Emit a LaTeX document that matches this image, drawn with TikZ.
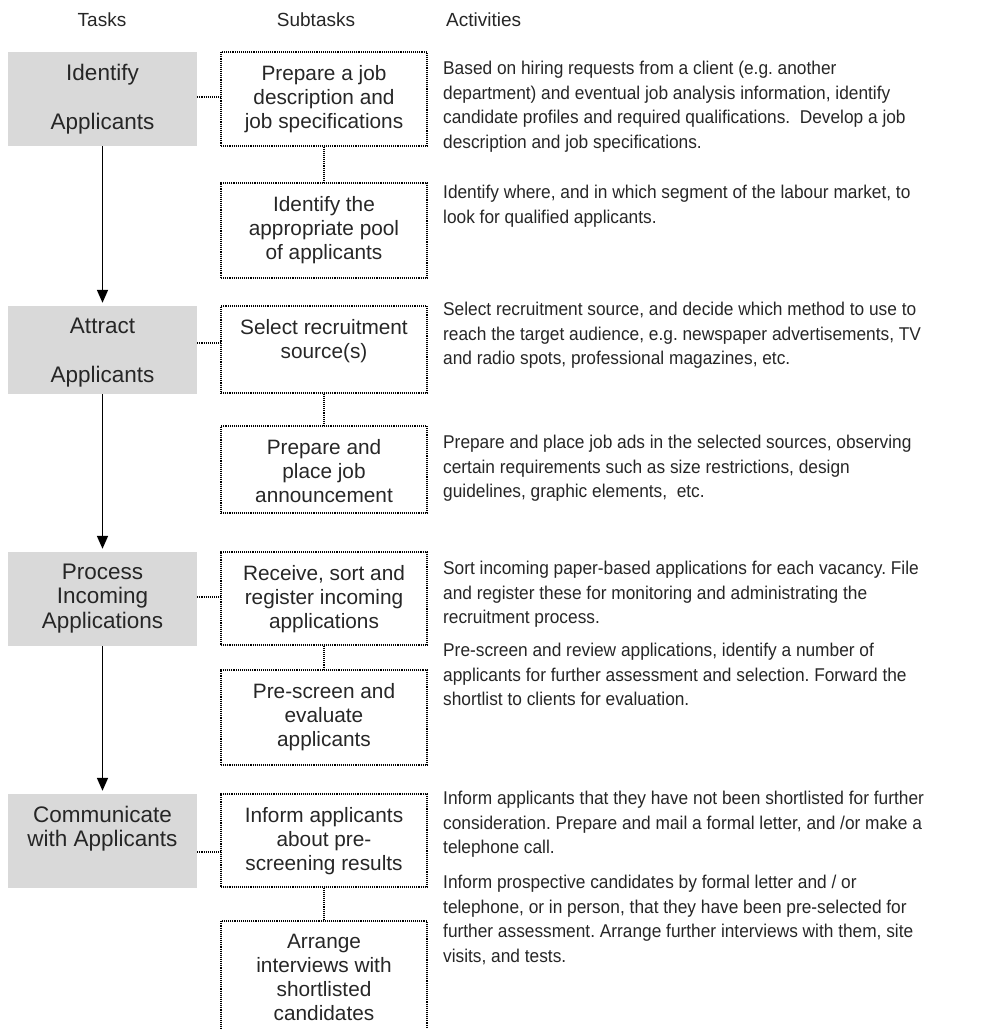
\documentclass[tikz,border=0pt]{standalone}
\usepackage{fontspec}
\setmainfont{Liberation Sans}
\newfontfamily\actfont[FakeStretch=0.935]{Liberation Sans}
\usetikzlibrary{arrows.meta,positioning}
\definecolor{taskgray}{HTML}{D9D9D9}
\definecolor{ink}{HTML}{262626}
\frenchspacing

\begin{document}
\begin{tikzpicture}
[x=1pt,y=-1pt,
taskbox/.style={rectangle,fill=taskgray,inner sep=0pt,minimum width=189pt},
subbox/.style={rectangle,draw=black,densely dotted,line width=1.1pt,inner sep=0pt,minimum width=206pt},
tasktext/.style={inner sep=0pt,align=center,text=ink,font=\fontsize{22.5}{24.5}\selectfont},
subtext/.style={inner sep=0pt,align=center,text=ink,font=\fontsize{20.8}{24}\selectfont},
acttext/.style={inner sep=0pt,align=left,anchor=north west,text=ink,font=\actfont\fontsize{18.5}{24.5}\selectfont},
headtext/.style={inner sep=0pt,text=ink,font=\fontsize{19}{22}\selectfont},
flow/.style={line width=1.6pt,-{Triangle[length=13pt,width=11pt]},shorten >=3pt},
dotline/.style={densely dotted,line width=1.1pt}]
\clip (0,0) rectangle (982,1029);

% column heads
\node[headtext] (hTasks) at (102,20) {Tasks};
\node[headtext] (hSub) at (316,20) {Subtasks};
\node[headtext,anchor=west] (hAct) at (446,20) {Activities};

% tasks
\node[taskbox,minimum height=94pt] (t1) at (102.5,99) {};
\node[taskbox,minimum height=88pt] (t2) at (102.5,350) {};
\node[taskbox,minimum height=94pt] (t3) at (102.5,599) {};
\node[taskbox,minimum height=94pt] (t4) at (102.5,841) {};
\node[tasktext,below=12pt of t1.north] (t1txt) {Identify\\[24.5pt]Applicants};
\node[tasktext,below=12pt of t2.north] (t2txt) {Attract\\[24.5pt]Applicants};
\node[tasktext,below=12pt of t3.north] (t3txt) {Process\\Incoming\\Applications};
\node[tasktext,below=12pt of t4.north] (t4txt) {Communicate\\with Applicants};

% subtasks
\node[subbox,minimum height=94pt] (s1) at (324,99) {};
\node[subbox,minimum height=95pt] (s2) at (324,230.5) {};
\node[subbox,minimum height=87pt] (s3) at (324,349.5) {};
\node[subbox,minimum height=87pt] (s4) at (324,469.5) {};
\node[subbox,minimum height=93pt] (s5) at (324,598.5) {};
\node[subbox,minimum height=95pt] (s6) at (324,717.5) {};
\node[subbox,minimum height=93pt] (s7) at (324,840.5) {};
\node[subbox,minimum height=138pt] (s8) at (324,990) {};
\node[subtext,below=13.5pt of s1.north] (s1txt) {Prepare a job\\description and\\job specifications};
\node[subtext,below=13.5pt of s2.north] (s2txt) {Identify the\\appropriate pool\\of applicants};
\node[subtext,below=13.5pt of s3.north] (s3txt) {Select recruitment\\source(s)};
\node[subtext,below=13.5pt of s4.north] (s4txt) {Prepare and\\place job\\announcement};
\node[subtext,below=13.5pt of s5.north] (s5txt) {Receive, sort and\\register incoming\\applications};
\node[subtext,below=13.5pt of s6.north] (s6txt) {Pre-screen and\\evaluate\\applicants};
\node[subtext,below=13.5pt of s7.north] (s7txt) {Inform applicants\\about pre-\\screening results};
\node[subtext,below=13.5pt of s8.north] (s8txt) {Arrange\\interviews with\\shortlisted\\candidates};

% activities
\node[acttext] (a1) at (443,61.3) {Based on hiring requests from a client (e.g. another\\department) and eventual job analysis information, identify\\candidate profiles and required qualifications.~ Develop a job\\description and job specifications.};
\node[acttext] (a2) at (443,185.3) {Identify where, and in which segment of the labour market, to\\look for qualified applicants.};
\node[acttext] (a3) at (443,302.3) {Select recruitment source, and decide which method to use to\\reach the target audience, e.g. newspaper advertisements, TV\\and radio spots, professional magazines, etc.};
\node[acttext] (a4) at (443,435.3) {Prepare and place job ads in the selected sources, observing\\certain requirements such as size restrictions, design\\guidelines, graphic elements,~ etc.};
\node[acttext] (a5) at (443,561.3) {Sort incoming paper-based applications for each vacancy. File\\and register these for monitoring and administrating the\\recruitment process.};
\node[acttext] (a6) at (443,643.3) {Pre-screen and review applications, identify a number of\\applicants for further assessment and selection. Forward the\\shortlist to clients for evaluation.};
\node[acttext] (a7) at (443,791.3) {Inform applicants that they have not been shortlisted for further\\consideration. Prepare and mail a formal letter, and /or make a\\telephone call.};
\node[acttext] (a8) at (443,875.3) {Inform prospective candidates by formal letter and / or\\telephone, or in person, that they have been pre-selected for\\further assessment. Arrange further interviews with them, site\\visits, and tests.};

% task flow
\draw[flow] (t1) -- (t2);
\draw[flow] (t2) -- (t3);
\draw[flow] (t3) -- (t4);

% task to subtask
\draw[dotline] ([yshift=2pt]t1.east) -- ([yshift=2pt]t1.east -| s1.west);
\draw[dotline] ([yshift=7pt]t2.east) -- ([yshift=7pt]t2.east -| s3.west);
\draw[dotline] ([yshift=2pt]t3.east) -- ([yshift=2pt]t3.east -| s5.west);
\draw[dotline] ([yshift=-11pt]t4.east) -- ([yshift=-11pt]t4.east -| s7.west);

% subtask chains
\draw[dotline] (s1) -- (s2);
\draw[dotline] (s3) -- (s4);
\draw[dotline] (s5) -- (s6);
\draw[dotline] (s7) -- (s8);
\end{tikzpicture}
\end{document}
